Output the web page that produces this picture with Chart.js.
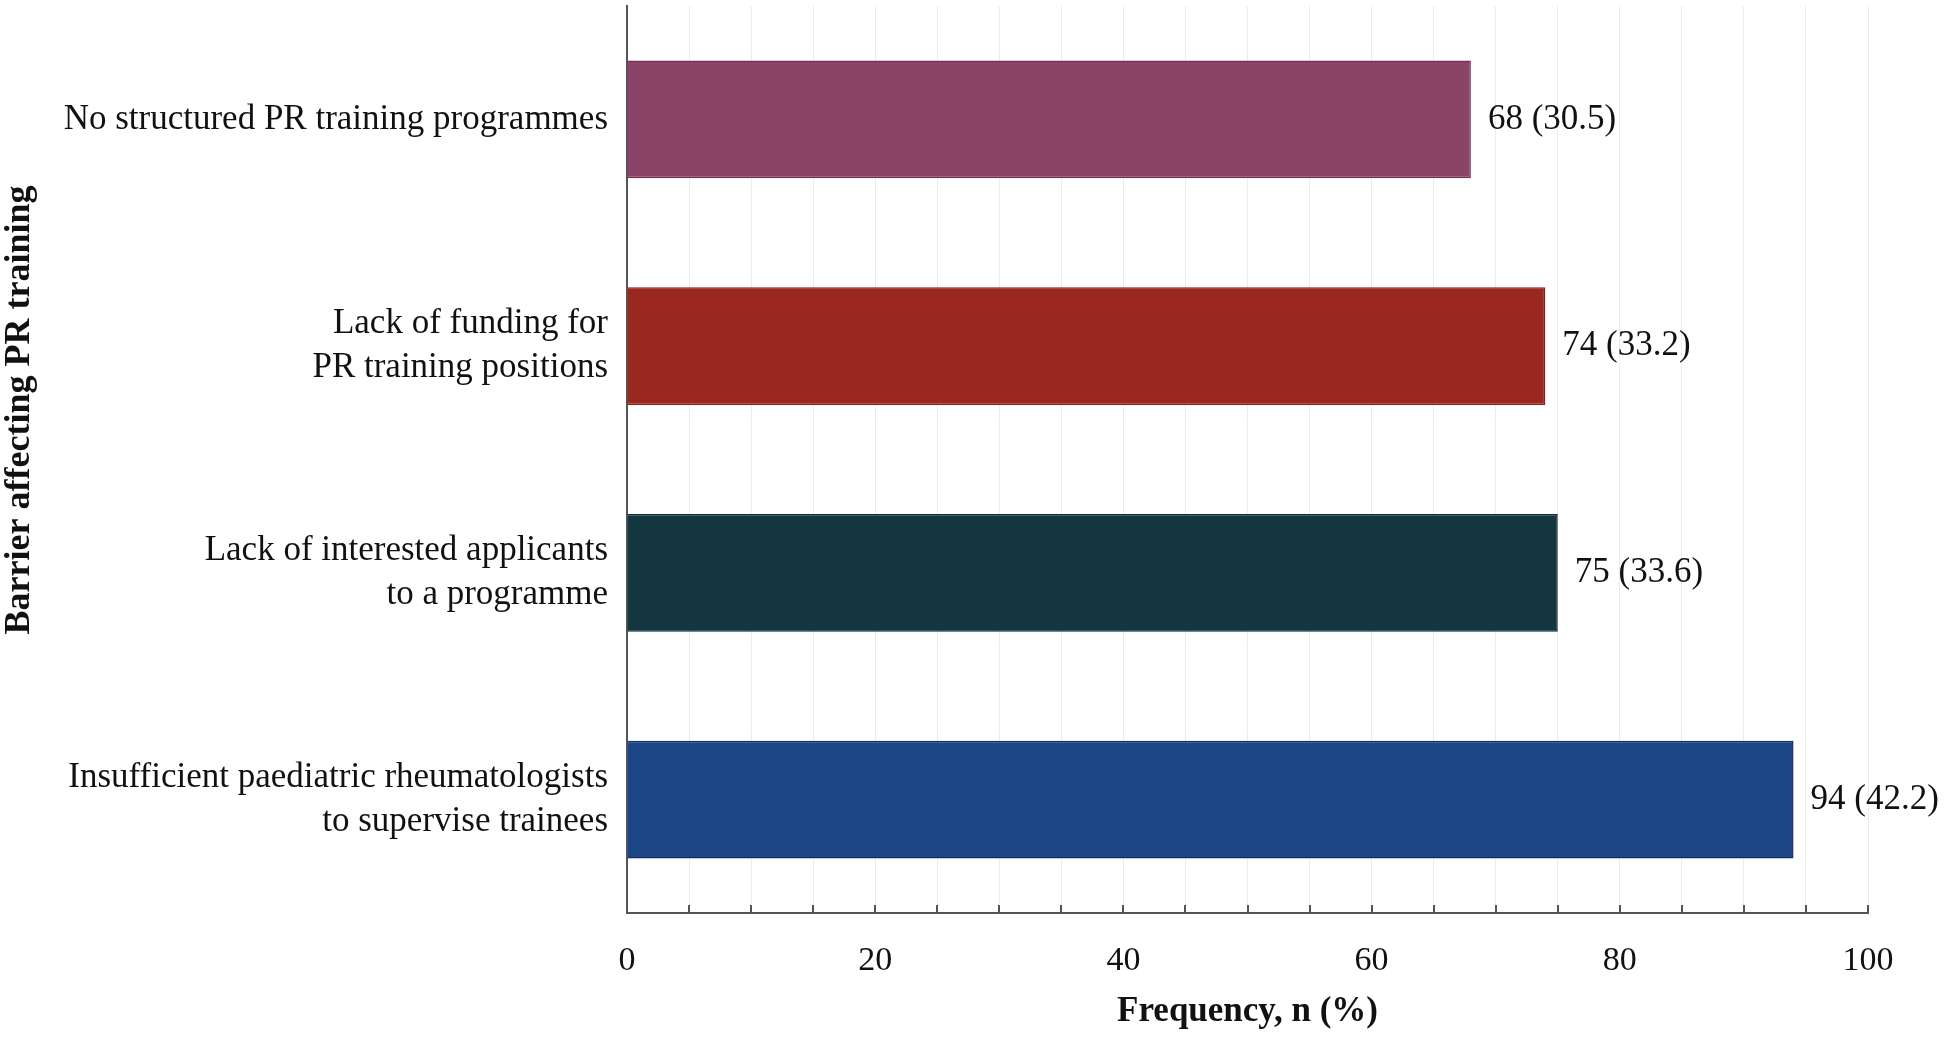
<!DOCTYPE html>
<html lang="en">
<head>
  <meta charset="UTF-8">
  <title>Barriers affecting PR training</title>
  <script src="https://cdn.jsdelivr.net/npm/chart.js"></script>
  <style>
    html, body { margin: 0; padding: 0; background: #fff; }
    #wrap { width: 1946px; height: 1037px; }
  </style>
</head>
<body>
  <div id="wrap"><canvas id="myChart"></canvas></div>
  <script>
    // datos
    const barriers = [
      'No structured PR training programmes',
      ['Lack of funding for', 'PR training positions'],
      ['Lack of interested applicants', 'to a programme'],
      ['Insufficient paediatric rheumatologists', 'to supervise trainees']
    ];
    const counts = [68, 74, 75, 94];
    const percents = [30.5, 33.2, 33.6, 42.2];
    const barColors = ['#8b4468', '#9b2820', '#13363f', '#1c4585'];
    const edgeColors = ['#7e2a57', '#8a1d16', '#0d2b33', '#0e2f78'];
    const xTickLabels = [0, 20, 40, 60, 80, 100];
    const yTitle = 'Barrier affecting PR training';

    const serif = "'Liberation Serif', 'Times New Roman', serif";

    // etiquetas al final de cada barra
    const barLabels = {
      id: 'barLabels',
      afterDatasetsDraw(chart) {
        const ctx = chart.ctx;
        const meta = chart.getDatasetMeta(0);
        ctx.save();
        ctx.font = '35px ' + serif;
        ctx.fillStyle = '#111';
        ctx.textAlign = 'left';
        ctx.textBaseline = 'middle';
        meta.data.forEach((bar, i) => {
          ctx.fillText(counts[i] + ' (' + percents[i].toFixed(1) + ')', bar.x + 17, bar.y);
        });
        ctx.restore();
      }
    };

    // marcas pequenas hacia adentro sobre el eje x + titulo del eje y
    const innerTicks = {
      id: 'innerTicks',
      afterDraw(chart) {
        const ctx = chart.ctx;
        const xs = chart.scales.x;
        const bottom = chart.chartArea.bottom;
        ctx.save();
        ctx.strokeStyle = '#555';
        ctx.lineWidth = 2;
        xs.ticks.forEach(t => {
          if (t.value === 0) return;
          const px = Math.round(xs.getPixelForValue(t.value));
          ctx.beginPath();
          ctx.moveTo(px, bottom);
          ctx.lineTo(px, bottom - 8);
          ctx.stroke();
        });
        // el titulo no esta centrado en el eje en la figura original
        ctx.translate(20, 410);
        ctx.rotate(-Math.PI / 2);
        ctx.font = 'bold 36px ' + serif;
        ctx.fillStyle = '#111';
        ctx.textAlign = 'center';
        ctx.textBaseline = 'middle';
        ctx.fillText(yTitle, 0, 0);
        ctx.restore();
      }
    };

    const ctx = document.getElementById('myChart').getContext('2d');
    const chart = new Chart(ctx, {
      type: 'bar',
      data: {
        labels: barriers,
        datasets: [{
          data: counts,
          backgroundColor: barColors,
          borderColor: edgeColors,
          borderWidth: 1.5,
          barPercentage: 0.52,
          categoryPercentage: 1
        }]
      },
      options: {
        indexAxis: 'y',
        responsive: true,
        maintainAspectRatio: false,
        animation: false,
        layout: { padding: { top: 6, right: 78, bottom: 0, left: 0 } },
        plugins: {
          legend: { display: false },
          tooltip: { enabled: false }
        },
        scales: {
          x: {
            min: 0,
            max: 100,
            grid: { color: '#ececec', lineWidth: 1, drawTicks: false },
            border: { display: true, color: '#555', width: 2 },
            ticks: {
              stepSize: 5,
              autoSkip: false,
              maxRotation: 0,
              padding: 28,
              color: '#111',
              font: { family: serif, size: 34 },
              callback: v => xTickLabels.includes(v) ? String(v) : ''
            },
            title: {
              display: true,
              text: 'Frequency, n (%)',
              color: '#111',
              font: { family: serif, size: 35, weight: 'bold', lineHeight: 1.2 },
              padding: { top: 0, bottom: 4 }
            },
            afterFit(scale) {
              scale.height = 124;
              scale.paddingLeft = 0;
              scale.paddingRight = 0;
            }
          },
          y: {
            grid: { display: false, drawTicks: false },
            border: { display: true, color: '#555', width: 2 },
            ticks: {
              padding: 19,
              color: '#111',
              font: { family: serif, size: 35, lineHeight: 1.26 }
            },
            title: { display: false },
            afterFit(scale) {
              scale.width = 627;
              scale.paddingTop = 0;
              scale.paddingBottom = 0;
            }
          }
        }
      },
      plugins: [barLabels, innerTicks]
    });
  </script>
</body>
</html>
